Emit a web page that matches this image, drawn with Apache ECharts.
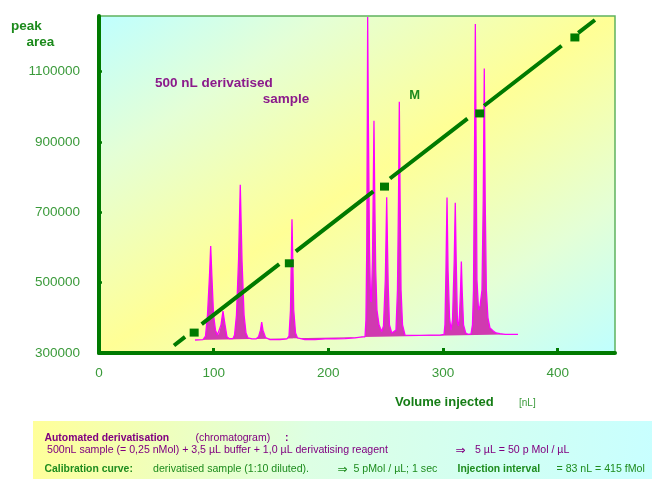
<!DOCTYPE html>
<html>
<head>
<meta charset="utf-8">
<script src="https://cdn.jsdelivr.net/npm/echarts@6/dist/echarts.min.js"></script>
<style>
  html, body { margin: 0; padding: 0; background: #ffffff; }
  #chart { width: 652px; height: 481px; }
</style>
</head>
<body>
<div id="chart"></div>
<script>
// Calibration curve: injected volume (nL) against measured peak area
const injectedVolume = [83, 166, 249, 332, 415];
const peakArea = [358000, 555000, 773000, 981000, 1197000];

// Fitted calibration line, given by its two end points [nL, peak area]
const fitLine = [[65.4, 321300], [432.5, 1246600]];

// Axis ranges and tick steps
const volumeRange = [0, 450];
const volumeStep = 100;
const areaRange = [300000, 1258000];
const areaStep = 200000;

// Chromatogram of the 500 nL derivatised sample, overlaid on the same axes
// as [position, response] vertices of the trace
const chromatogramTrace = [
  [83.7,337000],[90.7,338000],[92.9,348000],[94.6,408000],[96.4,522000],[97.4,604000],[98.4,522000],[99.9,408000],[101.6,365000],[103.3,351000],
  [104.6,354000],[106.4,380000],[108.1,419000],[109.9,380000],[111.6,346000],[113.4,341000],[116.9,341000],
  [118.2,351000],[119.9,408000],[121.7,564000],[123.2,778000],[124.7,564000],[126.5,408000],[128.2,357000],[129.9,343000],
  [133.4,340000],[136.9,340000],
  [139.1,346000],[140.8,365000],[141.9,388000],[143.0,365000],[145.2,344000],
  [149.1,338000],[157.8,338000],[163.9,340000],
  [165.7,348000],[167.0,422000],[167.7,564000],[168.3,680000],[169.0,564000],[169.8,422000],[171.4,357000],[173.1,343000],
  [179.6,338000],[188.4,338000],[197.1,340000],[205.8,340000],[214.5,341000],[223.3,343000],[229.4,346000],[232.0,346000],
  [232.8,394000],[233.5,593000],[234.0,962000],[234.3,1255000],[234.9,962000],[235.9,593000],[236.8,451000],[237.5,445000],
  [238.5,564000],[239.2,763000],[239.8,960000],[240.4,763000],[241.3,536000],[242.4,422000],[244.2,380000],[246.5,361000],
  [248.1,377000],[249.7,508000],[250.3,621000],[250.9,743000],[251.5,621000],[252.2,493000],[253.3,380000],[255.3,357000],
  [259.0,365000],[260.3,479000],[261.2,735000],[261.9,1014000],[262.6,735000],[263.4,479000],[264.7,380000],[266.9,351000],
  [271.2,350000],[279.9,350000],[288.7,351000],[297.4,351000],[300.9,353000],
  [301.7,380000],[302.6,536000],[303.5,742000],[304.4,536000],[305.7,400000],[307.0,365000],
  [308.3,394000],[309.8,564000],[310.7,727000],[311.5,564000],[312.6,388000],[313.5,377000],
  [314.4,408000],[315.3,479000],[316.0,560000],[316.7,479000],[317.9,380000],[319.8,357000],
  [321.8,353000],[324.4,354000],
  [325.7,380000],[326.6,479000],[327.5,877000],[328.2,1235000],[328.9,877000],[329.6,508000],[331.0,422000],[332.3,434000],
  [334.0,479000],[335.1,735000],[336.0,1109000],[336.8,735000],[337.8,479000],[339.2,400000],[341.0,371000],[343.6,363000],[346.2,357000],
  [349.7,355000],[354.1,353000],[358.4,353000],[365.4,353000]
];

const FONT = '"Liberation Sans", Arial, "DejaVu Sans", sans-serif';
const AXIS_GREEN = '#007a00';
const LABEL_GREEN = '#3a9a3a';
const TITLE_GREEN = '#1c8a1c';
const NOTE_GREEN = '#1e8c1e';
const PURPLE = '#800080';

function txt(x, y, text, size, color, bold, align) {
  return {
    type: 'text', x: x, y: y, silent: true, z: 100,
    style: {
      text: text,
      font: (bold ? 'bold ' : '') + size + 'px ' + FONT,
      fill: color,
      align: align || 'left',
      verticalAlign: 'middle'
    }
  };
}

const chart = echarts.init(document.getElementById('chart'), null, { renderer: 'canvas' });

const option = {
  animation: false,
  backgroundColor: '#ffffff',
  grid: {
    show: true,
    left: 99, top: 16, right: 37, bottom: 128,
    containLabel: false,
    borderColor: '#5fb35f',
    borderWidth: 1.5,
    backgroundColor: {
      type: 'linear', global: true,
      x: 99, y: 16, x2: 407.6, y2: 488.5,
      colorStops: [
        { offset: 0, color: '#bfffff' },
        { offset: 0.22, color: '#e4ffd6' },
        { offset: 0.5, color: '#ffff96' },
        { offset: 0.78, color: '#e4ffd6' },
        { offset: 1, color: '#bfffff' }
      ]
    }
  },
  xAxis: {
    type: 'value',
    min: volumeRange[0], max: volumeRange[1], interval: volumeStep,
    axisLine: { onZero: false, lineStyle: { color: AXIS_GREEN, width: 4 } },
    axisTick: { show: true, inside: true, length: 5, lineStyle: { color: AXIS_GREEN, width: 3 } },
    axisLabel: {
      color: LABEL_GREEN, fontSize: 13.5, fontFamily: FONT, margin: 13,
      showMaxLabel: false,
      formatter: v => (v <= 400 ? String(v) : '')
    },
    splitLine: { show: false }
  },
  yAxis: {
    type: 'value',
    min: areaRange[0], max: areaRange[1], interval: areaStep,
    axisLine: { onZero: false, lineStyle: { color: AXIS_GREEN, width: 4 } },
    axisTick: { show: true, inside: true, length: 3, lineStyle: { color: AXIS_GREEN, width: 2.5 } },
    axisLabel: {
      color: LABEL_GREEN, fontSize: 13.5, fontFamily: FONT, margin: 19,
      showMaxLabel: false,
      formatter: v => (v <= 1100000 ? String(v) : '')
    },
    splitLine: { show: false }
  },
  series: [
    {
      // filled chromatogram peaks
      type: 'custom',
      z: 2,
      silent: true,
      data: [chromatogramTrace[0]],
      encode: { x: 0, y: 1 },
      renderItem: (params, api) => ({
        type: 'polygon',
        shape: { points: chromatogramTrace.map(p => api.coord(p)) },
        style: { fill: '#d03ab0' }
      })
    },
    {
      // chromatogram outline
      type: 'line',
      z: 3,
      silent: true,
      data: chromatogramTrace,
      showSymbol: false,
      symbol: 'none',
      lineStyle: { color: '#ff00ff', width: 1.3 }
    },
    {
      // calibration fit
      type: 'line',
      z: 4,
      silent: true,
      data: fitLine,
      showSymbol: false,
      symbol: 'none',
      lineStyle: { color: AXIS_GREEN, width: 4, type: [98, 21], dashOffset: 84, cap: 'butt' }
    },
    {
      // calibration measurements
      type: 'scatter',
      z: 5,
      silent: true,
      data: injectedVolume.map((v, i) => [v, peakArea[i]]),
      symbol: 'rect',
      symbolSize: [9, 8],
      itemStyle: { color: AXIS_GREEN, opacity: 1 }
    }
  ],
  graphic: [
    // axis titles
    txt(11, 26, 'peak', 13.5, TITLE_GREEN, true),
    txt(26.5, 42, 'area', 13.5, TITLE_GREEN, true),
    txt(395, 402.7, 'Volume injected', 13, '#157d15', true),
    txt(519, 403, '[nL]', 10, LABEL_GREEN, false),

    // annotations inside the plot
    txt(155, 83.6, '500 nL derivatised', 13.5, '#8b1a8b', true),
    txt(262.7, 99.6, 'sample', 13.5, '#8b1a8b', true),
    txt(409.3, 95.3, 'M', 13, TITLE_GREEN, true),

    // information panel
    {
      type: 'rect', silent: true, z: 90,
      shape: { x: 33, y: 421, width: 619, height: 58 },
      style: {
        fill: new echarts.graphic.LinearGradient(0, 0, 1, 1, [
          { offset: 0, color: '#ffff99' },
          { offset: 0.45, color: '#ddffe4' },
          { offset: 1, color: '#c8ffff' }
        ])
      }
    },
    txt(44.5, 438, 'Automated derivatisation', 10.4, PURPLE, true),
    txt(195.5, 438, '(chromatogram)', 10.5, PURPLE, false),
    txt(285, 438, ':', 10.5, PURPLE, true),
    txt(47, 450.5, '500nL sample (= 0,25 nMol) + 3,5 µL buffer + 1,0 µL derivatising reagent', 10.6, PURPLE, false),
    txt(455.5, 450.5, '⇒', 12, PURPLE, false),
    txt(475, 450.5, '5 µL = 50 p Mol / µL', 10.6, PURPLE, false),
    txt(44.5, 469.5, 'Calibration curve:', 10.4, NOTE_GREEN, true),
    txt(153, 469.5, 'derivatised sample (1:10 diluted).', 10.6, NOTE_GREEN, false),
    txt(337.5, 469.5, '⇒', 12, NOTE_GREEN, false),
    txt(353.5, 469.5, '5 pMol / µL; 1 sec', 10.6, NOTE_GREEN, false),
    txt(457.5, 469.5, 'Injection interval', 10.4, NOTE_GREEN, true),
    txt(556.5, 469.5, '= 83 nL = 415 fMol', 10.6, NOTE_GREEN, false)
  ]
};

chart.setOption(option);
</script>
</body>
</html>
